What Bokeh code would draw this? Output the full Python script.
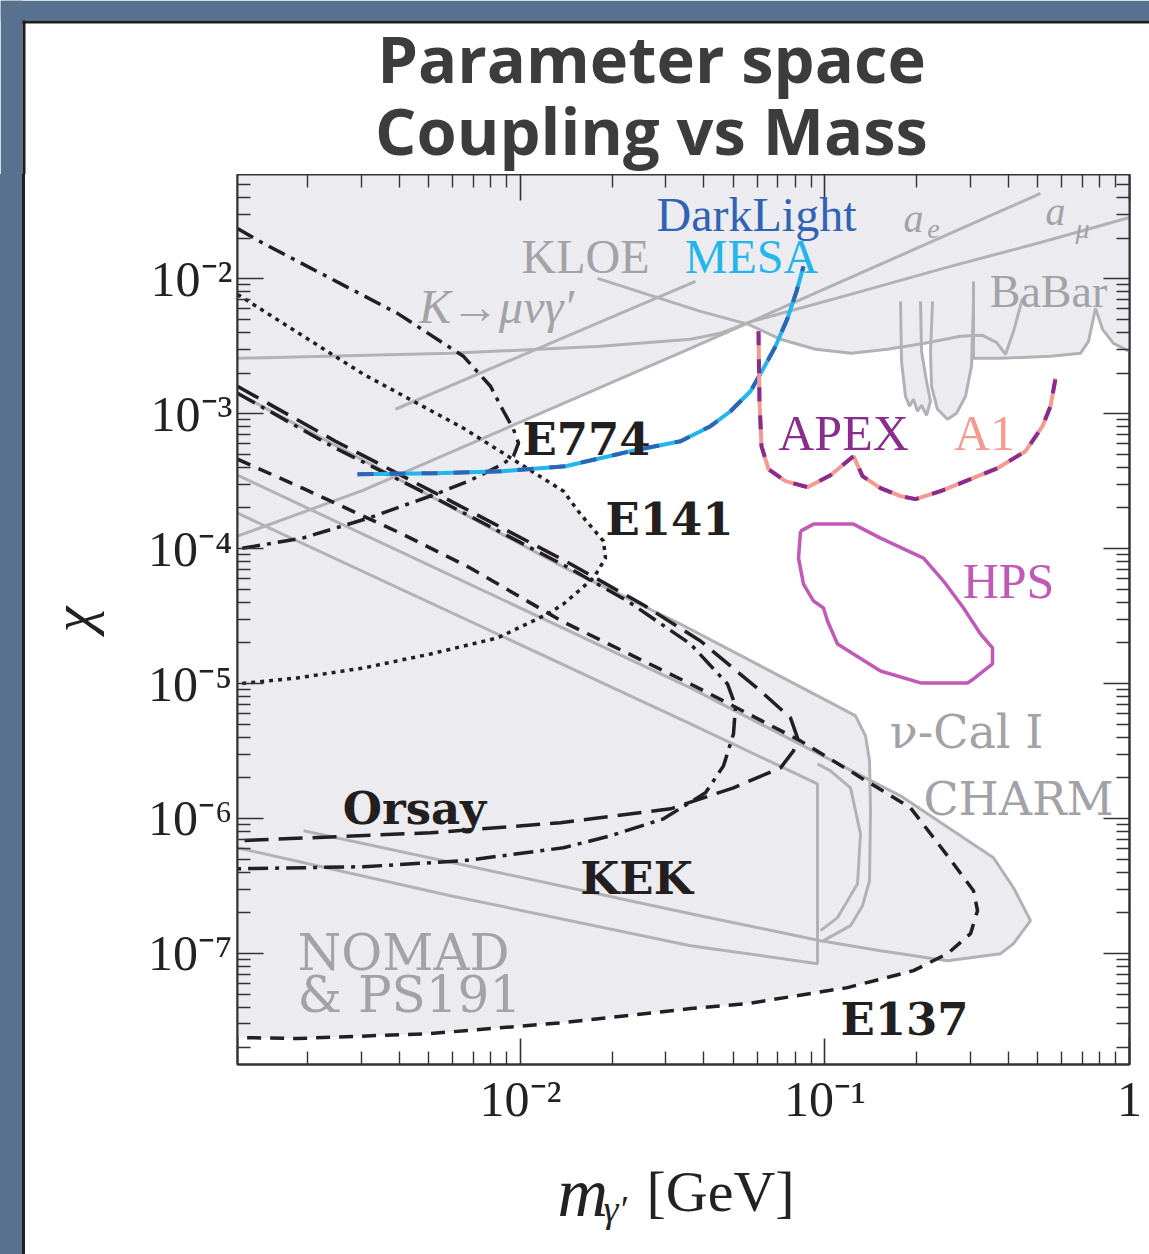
from bokeh.plotting import figure
from bokeh.models import Range1d, LogAxis, FixedTicker, Label, Spacer
from bokeh.layouts import column, row
from bokeh.embed import file_html
from bokeh.resources import INLINE

# ---------------------------------------------------------------------------
# Axis ranges: dark-photon mass m (GeV) and kinetic mixing chi
# ---------------------------------------------------------------------------
M_MIN, M_MAX = 1.1766e-3, 1.0
CHI_MIN, CHI_MAX = 1.503e-8, 5.916e-2

# ---------------------------------------------------------------------------
# Contours, stored as log10(m / GeV) and log10(chi)
# ---------------------------------------------------------------------------
# electron beam dumps (black)
E774_LOG_M = [-2.9294, -2.8440, -2.6240, -2.4039, -2.1872, -2.0985, -2.0558, -2.0230,
              -2.0065, -2.0230, -2.0591, -2.1707, -2.2791, -2.4992, -2.7159, -2.9294]
E774_LOG_CHI = [-1.6277, -1.7388, -1.9978, -2.2569, -2.5752, -2.7972, -2.9823, -3.1155,
                -3.2191, -3.3154, -3.3746, -3.5005, -3.5967, -3.7743, -3.9223, -4.0037]

E141_LOG_M = [-2.9294, -2.5156, -2.1872, -1.8588, -1.8029, -1.7274, -1.7208, -1.7602,
              -1.8588, -1.9113, -2.0755, -2.2955, -2.5156, -2.7323, -2.9294]
E141_LOG_CHI = [-2.1163, -2.7084, -3.1081, -3.5745, -3.7447, -3.9445, -4.0704, -4.2184,
                -4.4108, -4.4849, -4.6623, -4.7809, -4.8846, -4.9586, -5.0030]

ORSAY_LOG_M = [-2.9294, -2.6075, -2.2791, -1.8522, -1.5960, -1.4088, -1.2118, -1.1133,
               -1.0903, -1.1034, -1.1461, -1.3005, -1.5074, -1.8686, -2.2955, -2.9294]
ORSAY_LOG_CHI = [-2.7972, -3.2043, -3.5893, -4.0926, -4.4182, -4.6847, -5.0548, -5.2546,
                 -5.4027, -5.4990, -5.6248, -5.7728, -5.9282, -6.0319, -6.1059, -6.1652]

KEK_LOG_M = [-2.9294, -2.6075, -2.2791, -1.8522, -1.6486, -1.4417, -1.3202, -1.2939,
             -1.3005, -1.3333, -1.3924, -1.5303, -1.7044, -1.8588, -2.1872, -2.5156, -2.9294]
KEK_LOG_CHI = [-2.8490, -3.2562, -3.6263, -4.1296, -4.3886, -4.7069, -5.0030, -5.1658,
               -5.3731, -5.6100, -5.8098, -6.0023, -6.1281, -6.2170, -6.3132, -6.3576, -6.3724]

E137_LOG_M = [-2.9294, -2.7159, -2.3875, -2.1707, -1.8588, -1.4417, -1.0804, -0.7192,
              -0.5977, -0.5123, -0.4991, -0.5221, -0.5977, -0.7093, -0.9261, -1.2545,
              -1.4417, -1.8588, -2.2955, -2.7323, -2.9294]
E137_LOG_CHI = [-3.3376, -3.5523, -3.8927, -4.1370, -4.5441, -5.0030, -5.4249, -5.9209,
                -6.2762, -6.5353, -6.6833, -6.8536, -7.0016, -7.1275, -7.2533, -7.3718,
                -7.4088, -7.5124, -7.5938, -7.6308, -7.6234]

# proton beam dumps / neutrino experiments (grey)
NUCAL_LOG_M = [-2.9294, -1.8522, -1.4745, -0.9491, -0.8998, -0.8670, -0.8538, -0.8505,
               -0.8538, -0.8768, -0.9162, -1.0049]
NUCAL_LOG_CHI = [-2.8490, -4.1444, -4.5587, -5.1806, -5.2399, -5.3879, -5.5730, -5.9431,
                 -6.4612, -6.6463, -6.7943, -6.9054]

CHARM_LOG_M = [-2.9294, -2.6995, -1.4417, -1.1034, -0.7520, -0.4466, -0.3809, -0.3251,
               -0.3809, -0.4236, -0.5977, -0.8177, -1.0147, -1.4417, -2.7126]
CHARM_LOG_CHI = [-3.4561, -3.7003, -5.0326, -5.4249, -5.8320, -6.2910, -6.5130, -6.7573,
                 -6.9276, -7.0016, -7.0535, -6.9794, -6.9054, -6.7055, -6.0911]

CHARM_INNER_LOG_M = [-1.0246, -0.9819, -0.9162, -0.8834, -0.8932, -0.9589, -1.0147]
CHARM_INNER_LOG_CHI = [-5.5952, -5.6470, -5.7728, -6.1133, -6.4835, -6.7351, -6.8314]

NOMAD_LOG_M = [-2.9294, -1.4417, -1.0246, -1.0246, -1.4417, -2.2299, -2.9294]
NOMAD_LOG_CHI = [-3.7373, -5.2991, -5.7432, -7.0757, -6.9424, -6.5722, -6.2170]

# anomalous moments, meson decays, B factory (grey)
AE_LOG_M = [-2.9294, -2.5156, -1.4417, -0.2922]
AE_LOG_CHI = [-3.9075, -3.5671, -2.5159, -1.3687]

AMU_LOG_M = [-2.9294, -2.2299, -1.7372, -1.4417, -1.3432, -1.2512, -0.9162, -0.5878, -0.2922, 0.0]
AMU_LOG_CHI = [-2.5900, -2.5530, -2.5011, -2.4493, -2.4049, -2.3235, -2.1163, -1.9090, -1.7314, -1.5463]

KMUNU_LOG_M = [-2.4105, -1.4253]
KMUNU_LOG_CHI = [-2.9675, -2.0200]

KLOE_LOG_M = [-1.7471, -1.5730, -1.4088, -1.2512, -1.1461, -1.0312, -0.9129, -0.7947,
              -0.6732, -0.5550, -0.4827, -0.4367, -0.4072, -0.3809, -0.3514]
KLOE_LOG_CHI = [-1.9978, -2.1237, -2.2421, -2.3383, -2.4493, -2.5233, -2.5530, -2.5233,
                -2.4789, -2.4271, -2.4197, -2.4715, -2.5604, -2.3901, -2.1459]

BABAR_LOG_M = [-0.5123, -0.5123, -0.4236, -0.2594, -0.1609, -0.1346, -0.1116, -0.0886, -0.0525, 0.0]
BABAR_LOG_CHI = [-2.0200, -2.5900, -2.5900, -2.5752, -2.5530, -2.4641, -2.2199, -2.3753, -2.4789, -2.5382]

BABAR_DIP1_LOG_M = [-0.7520, -0.7487, -0.7356, -0.7225, -0.7093, -0.6962, -0.6830, -0.6666,
                    -0.6535, -0.6666, -0.6830, -0.6863]
BABAR_DIP1_LOG_CHI = [-2.1681, -2.6122, -2.8712, -2.9453, -2.8935, -2.9823, -2.9379, -3.0119,
                      -2.9083, -2.7602, -2.5382, -2.1681]
BABAR_DIP2_LOG_M = [-0.6469, -0.6535, -0.6502, -0.6305, -0.5977, -0.5681, -0.5385, -0.5188, -0.5123]
BABAR_DIP2_LOG_CHI = [-2.1681, -2.5382, -2.7972, -2.9675, -3.0415, -2.9971, -2.8712, -2.6492, -2.1681]

# lower edge of the combined exclusion from a_e, KLOE and BaBar
UPPER_EDGE_LOG_M = [-2.9294, -2.5156, -1.4417, -1.2512, -1.1461, -1.0312, -0.9129, -0.7947,
                    -0.6732, -0.5550, -0.5123, -0.5123, -0.4236, -0.2594, -0.1609, -0.1346,
                    -0.1116, -0.0886, -0.0525, 0.0]
UPPER_EDGE_LOG_CHI = [-3.9075, -3.5671, -2.5159, -2.3235, -2.4493, -2.5233, -2.5530, -2.5233,
                      -2.4789, -2.4271, -2.4197, -2.5900, -2.5900, -2.5752, -2.5530, -2.4641,
                      -2.2199, -2.3753, -2.4789, -2.5382]

# projected reaches
DARKLIGHT_LOG_M = [-2.5353, -2.2791, -2.0591, -1.8522, -1.6387, -1.4745, -1.3760, -1.3103,
                   -1.2446, -1.2019, -1.1625, -1.1231, -1.0936, -1.0706]
DARKLIGHT_LOG_CHI = [-3.4487, -3.4413, -3.4264, -3.3894, -3.2784, -3.2043, -3.0933, -2.9823,
                     -2.8342, -2.6643, -2.5011, -2.2939, -2.0941, -1.9090]

APEX_LOG_M = [-1.2184, -1.2151, -1.2085, -1.1855, -1.1297, -1.0574, -0.9819, -0.9064, -0.8768,
              -0.8177, -0.7520, -0.7028, -0.6206, -0.5221, -0.4335, -0.3415, -0.2857, -0.2594, -0.2430]
APEX_LOG_CHI = [-2.3901, -2.9083, -3.2414, -3.4116, -3.5005, -3.5449, -3.4561, -3.3154, -3.4635,
                -3.5523, -3.6115, -3.6337, -3.5745, -3.4857, -3.4042, -3.2784, -3.0933, -2.9453, -2.7381]

HPS_LOG_M = [-1.0804, -1.0377, -0.9064, -0.8177, -0.6765, -0.6108, -0.5451, -0.4893, -0.4499,
             -0.4499, -0.5123, -0.5320, -0.6863, -0.8177, -0.9589, -0.9918, -1.0049, -1.0377,
             -1.0706, -1.0870, -1.0804]
HPS_LOG_CHI = [-3.8705, -3.8187, -3.8187, -3.9223, -4.0704, -4.2406, -4.4404, -4.6329, -4.7365,
               -4.8549, -4.9660, -4.9956, -4.9956, -4.9068, -4.7069, -4.5367, -4.4404, -4.3886,
               -4.2628, -4.0704, -3.8705]

# tick marks and their labels
X_MAJOR = [1e-3, 1e-2, 1e-1, 1.0]
Y_MAJOR = [1e-8, 1e-7, 1e-6, 1e-5, 1e-4, 1e-3, 1e-2, 1e-1]
X_TICK_LABELS = {1e-2: "10\u207b\u00b2", 1e-1: "10\u207b\u00b9", 1.0: "1"}
Y_TICK_LABELS = {1e-7: "10\u207b\u2077", 1e-6: "10\u207b\u2076", 1e-5: "10\u207b\u2075",
                 1e-4: "10\u207b\u2074", 1e-3: "10\u207b\u00b3", 1e-2: "10\u207b\u00b2"}

# ---------------------------------------------------------------------------
# Styles
# ---------------------------------------------------------------------------
FILL_GREY = "#ECECF0"
LINE_GREY = "#B2B2B5"
TEXT_GREY = "#A2A2A7"
INK = "#231F20"
BLUE = "#2F63B3"
CYAN = "#22B6EA"
PURPLE = "#8A2C8E"
SALMON = "#F59A90"
MAGENTA = "#C05AB6"
TITLE_INK = "#3C3C3C"
PAGE_BG = "#57718F"
PANEL_EDGE = "#1E1E1E"

PAGE_W, PAGE_H = 1149, 1254
HEADER_H, CAPTION_H = 174, 114
PANEL_X, PANEL_Y = 22, 20       # slide panel corner
EDGE_W = 3                      # dark panel outline
BORDER_LEFT, BORDER_RIGHT = 212, 20


def lin(vals):
    return [10.0 ** v for v in vals]


p = figure(width=PAGE_W - PANEL_X - EDGE_W, height=PAGE_H - HEADER_H - CAPTION_H,
           x_axis_type="log", y_axis_type="log",
           x_range=Range1d(M_MIN, M_MAX), y_range=Range1d(CHI_MIN, CHI_MAX),
           output_backend="svg", toolbar_location=None, title=None,
           min_border_left=BORDER_LEFT, min_border_right=BORDER_RIGHT,
           min_border_top=0, min_border_bottom=76)
p.background_fill_color = "white"
p.border_fill_color = "white"
p.grid.visible = False
p.outline_line_color = "#333333"
p.outline_line_width = 2

# ---- shaded excluded regions ----
top_x = lin(UPPER_EDGE_LOG_M) + [M_MAX, M_MAX, M_MIN]
top_y = lin(UPPER_EDGE_LOG_CHI) + [1.0, 1.0, 1.0]
p.patch(top_x, top_y, fill_color=FILL_GREY, line_color=None)
for lm, lc in [(E774_LOG_M, E774_LOG_CHI), (E141_LOG_M, E141_LOG_CHI),
               (ORSAY_LOG_M, ORSAY_LOG_CHI), (KEK_LOG_M, KEK_LOG_CHI),
               (E137_LOG_M, E137_LOG_CHI), (CHARM_LOG_M, CHARM_LOG_CHI),
               (NOMAD_LOG_M, NOMAD_LOG_CHI),
               (NUCAL_LOG_M + CHARM_LOG_M[-2:], NUCAL_LOG_CHI + CHARM_LOG_CHI[-2:]),
               (BABAR_DIP1_LOG_M, BABAR_DIP1_LOG_CHI), (BABAR_DIP2_LOG_M, BABAR_DIP2_LOG_CHI)]:
    p.patch(lin(lm), lin(lc), fill_color=FILL_GREY, line_color=None)

# ---- grey outlines ----
for lm, lc in [(AE_LOG_M, AE_LOG_CHI), (AMU_LOG_M, AMU_LOG_CHI), (KMUNU_LOG_M, KMUNU_LOG_CHI),
               (KLOE_LOG_M, KLOE_LOG_CHI), (BABAR_LOG_M, BABAR_LOG_CHI),
               (BABAR_DIP1_LOG_M, BABAR_DIP1_LOG_CHI), (BABAR_DIP2_LOG_M, BABAR_DIP2_LOG_CHI),
               (NUCAL_LOG_M, NUCAL_LOG_CHI), (CHARM_LOG_M, CHARM_LOG_CHI),
               (CHARM_INNER_LOG_M, CHARM_INNER_LOG_CHI), (NOMAD_LOG_M, NOMAD_LOG_CHI)]:
    p.line(lin(lm), lin(lc), line_color=LINE_GREY, line_width=3)

# ---- black beam-dump contours ----
p.line(lin(E774_LOG_M), lin(E774_LOG_CHI), line_color=INK, line_width=3.5, line_dash="18 7 4 7")
p.line(lin(E141_LOG_M), lin(E141_LOG_CHI), line_color=INK, line_width=3.5, line_dash="4 5")
p.line(lin(ORSAY_LOG_M), lin(ORSAY_LOG_CHI), line_color=INK, line_width=3.5, line_dash="24 10")
p.line(lin(KEK_LOG_M), lin(KEK_LOG_CHI), line_color=INK, line_width=3.5, line_dash="20 7 4 7")
p.line(lin(E137_LOG_M), lin(E137_LOG_CHI), line_color=INK, line_width=3.5, line_dash="14 9")

# ---- projected experiments ----
p.line(lin(DARKLIGHT_LOG_M), lin(DARKLIGHT_LOG_CHI), line_color=CYAN, line_width=4)
p.line(lin(DARKLIGHT_LOG_M), lin(DARKLIGHT_LOG_CHI), line_color=BLUE, line_width=4, line_dash="16 16")
p.line(lin(APEX_LOG_M), lin(APEX_LOG_CHI), line_color=SALMON, line_width=4)
p.line(lin(APEX_LOG_M), lin(APEX_LOG_CHI), line_color=PURPLE, line_width=4, line_dash="14 14")
p.line(lin(HPS_LOG_M), lin(HPS_LOG_CHI), line_color=MAGENTA, line_width=3.5)

# ---- axes: ticks on all four sides, pointing inwards ----
bottom_axis = p.below[0]
left_axis = p.left[0]
top_axis = LogAxis()
right_axis = LogAxis()
p.add_layout(top_axis, "above")
p.add_layout(right_axis, "right")

minor_x = [k * d for d in (1e-3, 1e-2, 1e-1) for k in range(2, 10)]
minor_y = [k * d for d in (1e-8, 1e-7, 1e-6, 1e-5, 1e-4, 1e-3, 1e-2) for k in range(2, 10)]
for ax, majors, minors in [(bottom_axis, X_MAJOR, minor_x), (top_axis, X_MAJOR, minor_x),
                           (left_axis, Y_MAJOR, minor_y), (right_axis, Y_MAJOR, minor_y)]:
    ax.ticker = FixedTicker(ticks=majors, minor_ticks=minors)
    ax.major_tick_in = 26
    ax.major_tick_out = 0
    ax.minor_tick_in = 13
    ax.minor_tick_out = 0
    ax.major_tick_line_color = "#333333"
    ax.minor_tick_line_color = "#333333"
    ax.major_tick_line_width = 1.6
    ax.minor_tick_line_width = 1.4
    ax.axis_line_color = "#333333"
    ax.axis_line_width = 2

top_axis.major_label_overrides = {t: "" for t in X_MAJOR}
right_axis.major_label_overrides = {t: "" for t in Y_MAJOR}
for ax in (top_axis, right_axis):
    ax.major_label_text_font_size = "1px"
    ax.major_label_standoff = 0

bottom_axis.major_label_overrides = {t: X_TICK_LABELS.get(t, "") for t in X_MAJOR}
left_axis.major_label_overrides = {t: Y_TICK_LABELS.get(t, "") for t in Y_MAJOR}
for ax in (bottom_axis, left_axis):
    ax.major_label_text_font = "Liberation Serif"
    ax.major_label_text_font_size = "50px"
    ax.major_label_text_color = "#222222"
bottom_axis.major_label_standoff = 6
left_axis.major_label_standoff = 5

left_axis.axis_label = "\u03c7"
left_axis.axis_label_text_font = "Liberation Serif"
left_axis.axis_label_text_font_style = "italic"
left_axis.axis_label_text_font_size = "58px"
left_axis.axis_label_text_color = "#222222"
left_axis.axis_label_standoff = 40


def note(fig, text, x, y, color, size, font="Liberation Serif", style="normal", align="center"):
    fig.add_layout(Label(x=x, y=y, text=text, text_color=color, text_font=font,
                         text_font_size=f"{size}px", text_font_style=style,
                         text_align=align, text_baseline="middle"))


def tag(text, lm, lc, color, size, **kw):
    note(p, text, 10.0 ** lm, 10.0 ** lc, color, size, **kw)


# ---- region and experiment names ----
tag("DarkLight", -1.2249, -1.5241, BLUE, 48)
tag("MESA", -1.2413, -1.8350, CYAN, 48)
tag("KLOE", -1.7865, -1.8350, TEXT_GREY, 48)
tag("K\u2192\u03bc\u03bd\u03b3\u2032", -2.0788, -2.2051, TEXT_GREY, 48, style="italic")
tag("a", -0.7093, -1.5537, TEXT_GREY, 40, style="italic")
tag("e", -0.6436, -1.6351, TEXT_GREY, 28, style="italic")
tag("a", -0.2430, -1.5019, TEXT_GREY, 40, style="italic")
tag("\u03bc", -0.1543, -1.6277, TEXT_GREY, 28, style="italic")
tag("BaBar", -0.2660, -2.0941, TEXT_GREY, 46)
tag("E774", -1.7832, -3.1895, INK, 45, font="DejaVu Serif", style="bold")
tag("APEX", -0.9392, -3.1451, PURPLE, 50)
tag("A1", -0.4762, -3.1451, SALMON, 50)
tag("E141", -1.5106, -3.7817, INK, 45, font="DejaVu Serif", style="bold")
tag("HPS", -0.3973, -4.2406, MAGENTA, 50)
tag("\u03bd-Cal I", -0.5353, -5.3583, TEXT_GREY, 46, font="DejaVu Serif")
tag("CHARM", -0.3645, -5.8542, TEXT_GREY, 46, font="DejaVu Serif")
tag("Orsay", -2.3481, -5.9282, INK, 45, font="DejaVu Serif", style="bold")
tag("KEK", -1.6190, -6.4464, INK, 45, font="DejaVu Serif", style="bold")
tag("NOMAD", -2.7323, -6.9941, TEXT_GREY, 50, font="DejaVu Serif", align="left")
tag("& PS191", -2.7323, -7.3050, TEXT_GREY, 50, font="DejaVu Serif", align="left")
tag("E137", -0.7389, -7.4900, INK, 45, font="DejaVu Serif", style="bold")


# ---- header (slide edge + title) and mass-axis caption, in page pixels ----
def strip(width, height, top, x0, border_left, border_right):
    f = figure(width=width, height=height,
               x_range=Range1d(x0 + border_left, x0 + width - border_right),
               y_range=Range1d(top + height, top), x_axis_type=None, y_axis_type=None,
               output_backend="svg", toolbar_location=None, title=None,
               min_border_left=border_left, min_border_right=border_right,
               min_border_top=0, min_border_bottom=0)
    f.outline_line_color = None
    f.background_fill_color = "white"
    f.border_fill_color = "white"
    return f


header = strip(PAGE_W, HEADER_H, 0, 0, 0, 0)
# slide background above and left of the panel, and the panel's dark outline
header.quad(left=[0, 0], right=[PAGE_W, PANEL_X], top=[0, 0], bottom=[PANEL_Y, HEADER_H],
            fill_color=PAGE_BG, line_color=None)
header.quad(left=[PANEL_X, PANEL_X], right=[PAGE_W, PANEL_X + EDGE_W],
            top=[PANEL_Y, PANEL_Y], bottom=[PANEL_Y + EDGE_W, HEADER_H],
            fill_color=PANEL_EDGE, line_color=None)
note(header, "Parameter space", 651, 57, TITLE_INK, 65, font="Open Sans", style="bold")
note(header, "Coupling vs Mass", 651, 129, TITLE_INK, 65, font="Open Sans", style="bold")

caption = strip(PAGE_W - PANEL_X - EDGE_W, CAPTION_H, PAGE_H - CAPTION_H, PANEL_X + EDGE_W,
                BORDER_LEFT, BORDER_RIGHT)
note(caption, "m", 557, 1192, "#222222", 70, style="italic", align="left")
note(caption, "\u03b3\u2032", 603, 1208, "#222222", 38, style="italic", align="left")
note(caption, "[GeV]", 646, 1191, "#222222", 58, align="left")

# ---- slide panel to the left of the figure ----
body_h = PAGE_H - HEADER_H
left_strip = Spacer(width=PANEL_X, height=body_h, styles={"background-color": PAGE_BG})
left_edge = Spacer(width=EDGE_W, height=body_h, styles={"background-color": PANEL_EDGE})
body = row(left_strip, left_edge, column(p, caption, spacing=0), spacing=0)
page = column(header, body, spacing=0)

open("out.html", "w").write(file_html(page, INLINE, title="Parameter space"))
